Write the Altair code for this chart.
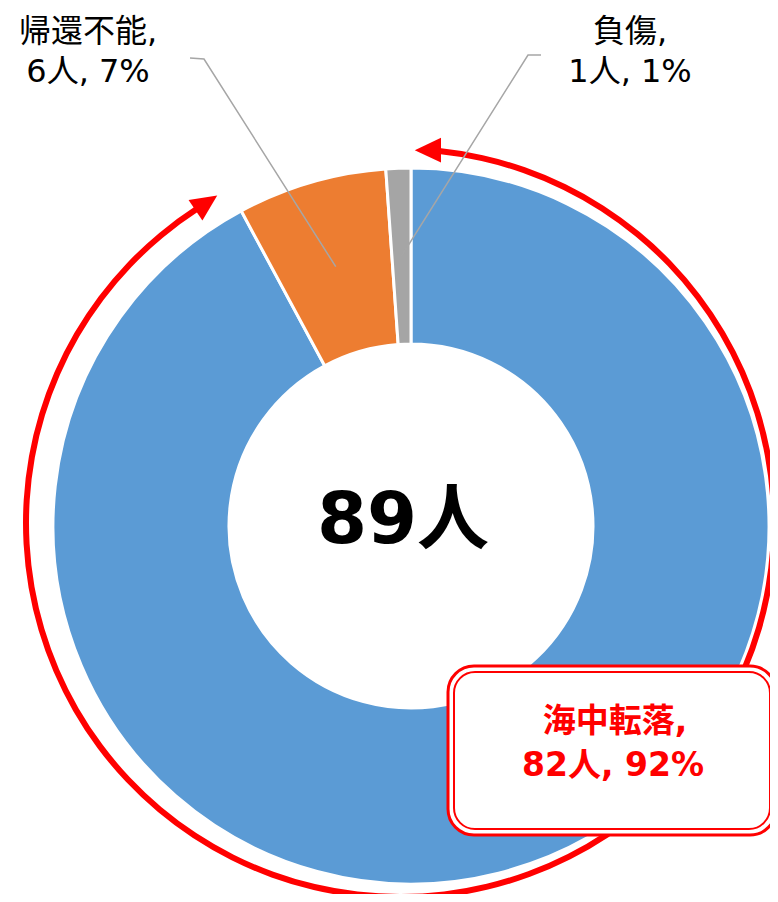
import altair as alt
import pandas as pd
import numpy as np

# ---- data ----
categories = ["海中転落", "帰還不能", "負傷"]
counts = [82, 6, 1]
colors = ["#5B9BD5", "#ED7D31", "#A5A5A5"]
total_label = "89人"

total = sum(counts)
pcts = [round(c / total * 100) for c in counts]

# ---- layout (chart pixel space) ----
W, H = 762, 886
CX, CY = 403, 518
R_OUT, R_IN = 358, 182
FONT = "DejaVu Sans, Noto Sans CJK JP"

df = pd.DataFrame({"cat": categories, "n": counts, "ord": list(range(len(counts)))})

donut = alt.Chart(df).mark_arc(
    outerRadius=R_OUT, innerRadius=R_IN, stroke="white", strokeWidth=3
).encode(
    theta=alt.Theta("n:Q", stack=True),
    color=alt.Color("cat:N", scale=alt.Scale(domain=categories, range=colors), legend=None),
    order=alt.Order("ord:Q", sort="ascending"),
    x=alt.value(CX),
    y=alt.value(CY),
)

# red surrounding arrow ring (annotation)
RCX, RCY, RR = 392, 515, 374
ring_start_deg, ring_end_deg = 6, 327
ring = alt.Chart(pd.DataFrame({"k": [0]})).mark_arc(color="#FF0000").encode(
    theta=alt.value(float(np.radians(ring_start_deg))),
    theta2=alt.value(float(np.radians(ring_end_deg))),
    radius=alt.value(RR + 3),
    radius2=alt.value(RR - 3),
    x=alt.value(RCX),
    y=alt.value(RCY),
)

arrow_deg = [4.5, 328.6]
arrow_rot = [270, 56]
arrow_df = pd.DataFrame({"deg": arrow_deg, "rot": arrow_rot})
arrows = alt.Chart(arrow_df).transform_calculate(
    px=f"{RCX} + {RR}*sin(datum.deg*PI/180)",
    py=f"{RCY} - {RR}*cos(datum.deg*PI/180)",
).mark_point(
    shape="M0,-1L0.85,0.8L-0.85,0.8Z", filled=True, color="#FF0000", size=850, opacity=1
).encode(
    x=alt.X("px:Q", scale=None),
    y=alt.Y("py:Q", scale=None),
    angle=alt.Angle("rot:Q", scale=None),
)

# leader lines: from label hook to slice middle
cum = np.cumsum([0] + counts)
R_MID = (R_OUT + R_IN) / 2
hooks = {1: [(182, 50), (196, 51)], 2: [(533, 47), (520, 47)]}
rows = []
for i, pts in hooks.items():
    mid = (cum[i] + cum[i + 1]) / 2 / total * 2 * np.pi
    ax = CX + R_MID * np.sin(mid)
    ay = CY - R_MID * np.cos(mid)
    seq = pts + [(ax, ay)]
    for j, (x, y) in enumerate(seq):
        rows.append({"cat": categories[i], "j": j, "x": x, "y": y})
leaders = alt.Chart(pd.DataFrame(rows)).mark_line(color="#A6A6A6", strokeWidth=1.5).encode(
    x=alt.X("x:Q", scale=None),
    y=alt.Y("y:Q", scale=None),
    detail="cat:N",
    order="j:Q",
)

# outside labels
label_pos = {1: (80, 24), 2: (622, 24)}
lab_rows = []
for i, (x, y) in label_pos.items():
    lab_rows.append({"t": f"{categories[i]},", "x": x, "y": y})
    lab_rows.append({"t": f"{counts[i]}人, {pcts[i]}%", "x": x, "y": y + 40})
labels = alt.Chart(pd.DataFrame(lab_rows)).mark_text(
    font=FONT, fontSize=32, color="#000000", align="center", baseline="middle"
).encode(x=alt.X("x:Q", scale=None), y=alt.Y("y:Q", scale=None), text="t:N")

# callout box for main category
box_outer = alt.Chart(pd.DataFrame({"k": [0]})).mark_rect(
    fill="white", stroke="#FF0000", strokeWidth=3, cornerRadius=26
).encode(x=alt.value(440), x2=alt.value(768), y=alt.value(658), y2=alt.value(827))
box_inner = alt.Chart(pd.DataFrame({"k": [0]})).mark_rect(
    fill="white", stroke="#FF0000", strokeWidth=2, cornerRadius=21
).encode(x=alt.value(446), x2=alt.value(762), y=alt.value(664), y2=alt.value(821))

box_rows = [
    {"t": f"{categories[0]},", "x": 607, "y": 714},
    {"t": f"{counts[0]}人, {pcts[0]}%", "x": 605, "y": 758},
]
box_text = alt.Chart(pd.DataFrame(box_rows)).mark_text(
    font=FONT, fontSize=33, fontWeight="bold", color="#FF0000", align="center", baseline="middle"
).encode(x=alt.X("x:Q", scale=None), y=alt.Y("y:Q", scale=None), text="t:N")

center = alt.Chart(pd.DataFrame({"t": [total_label]})).mark_text(
    font=FONT, fontSize=72, fontWeight="bold", color="#000000", align="center", baseline="middle"
).encode(x=alt.value(395), y=alt.value(513), text="t:N")

chart = alt.layer(
    donut, ring, arrows, leaders, labels, box_outer, box_inner, box_text, center
).properties(
    width=W, height=H, autosize="none", padding=0
).configure_view(stroke=None)

chart.save("out.html", embed_options={"renderer": "svg", "actions": False})
